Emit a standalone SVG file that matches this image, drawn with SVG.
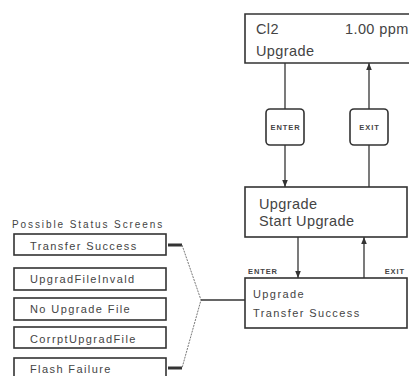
<svg xmlns="http://www.w3.org/2000/svg" width="409" height="376" viewBox="0 0 409 376">
<defs>
<style>
.box{fill:#fff;stroke:#333;stroke-width:1.6}
.t{font-family:"Liberation Sans",Arial,sans-serif;fill:#444}
.big{font-size:14.5px;letter-spacing:0.4px}
.mid{font-size:11px;letter-spacing:1.4px}
.sm{font-size:10px;letter-spacing:1.9px}
.lbl{font-size:7.5px;font-weight:bold;letter-spacing:0.9px}
.ln{stroke:#333;stroke-width:1.3;fill:none}
.br{stroke:#777;stroke-width:1;fill:none;stroke-dasharray:2 1}
.stub{stroke:#333;stroke-width:3}
</style>
<marker id="ah" viewBox="0 0 10 10" refX="10" refY="5" markerWidth="7" markerHeight="7" markerUnits="userSpaceOnUse" orient="auto">
<path d="M0,1 L10,5 L0,9 Z" fill="#333"/>
</marker>
</defs>
<g id="screen-cl2">
<path class="box" d="M412,14 H245 V63 H412"/>
<text class="t big" x="256" y="34">Cl2</text>
<text class="t big" x="345" y="34">1.00 ppm</text>
<text class="t big" x="256" y="56">Upgrade</text>
</g>
<g id="screen-start">
<rect class="box" x="245" y="187" width="162" height="50"/>
<text class="t big" x="259" y="209">Upgrade</text>
<text class="t big" x="259" y="226">Start Upgrade</text>
</g>
<g id="screen-transfer">
<rect class="box" x="245" y="278" width="162" height="50"/>
<text class="t mid" x="253" y="298">Upgrade</text>
<text class="t mid" x="253" y="317">Transfer Success</text>
</g>
<g id="key-enter">
<rect class="box" x="266" y="109" width="38" height="36" rx="4"/>
<text class="t lbl" x="285.5" y="130" text-anchor="middle">ENTER</text>
</g>
<g id="key-exit">
<rect class="box" x="350" y="109" width="38" height="36" rx="4"/>
<text class="t lbl" x="369.5" y="130" text-anchor="middle">EXIT</text>
</g>
<g id="status-title">
<text class="t sm" x="12" y="228">Possible Status Screens</text>
</g>
<g id="status-1"><rect class="box" x="14" y="234" width="152" height="21"/><text class="t mid" x="30" y="249.5">Transfer Success</text></g>
<g id="status-2"><rect class="box" x="14" y="268" width="152" height="22"/><text class="t mid" x="30" y="283">UpgradFileInvald</text></g>
<g id="status-3"><rect class="box" x="14" y="298" width="152" height="22"/><text class="t mid" x="30" y="313">No Upgrade File</text></g>
<g id="status-4"><rect class="box" x="14" y="327" width="152" height="21"/><text class="t mid" x="30" y="342.5">CorrptUpgradFile</text></g>
<g id="status-5"><rect class="box" x="14" y="358" width="152" height="22"/><text class="t mid" x="30" y="373">Flash Failure</text></g>
<g id="connectors">
<line class="ln" x1="285" y1="63" x2="285" y2="109"/>
<line class="ln" x1="285" y1="145" x2="285" y2="187" marker-end="url(#ah)"/>
<line class="ln" x1="369" y1="187" x2="369" y2="145"/>
<line class="ln" x1="369" y1="109" x2="369" y2="63" marker-end="url(#ah)"/>
<line class="ln" x1="298" y1="237" x2="298" y2="278" marker-end="url(#ah)"/>
<line class="ln" x1="364" y1="278" x2="364" y2="237" marker-end="url(#ah)"/>
<text class="t lbl" x="248" y="274">ENTER</text>
<text class="t lbl" x="405" y="274" text-anchor="end">EXIT</text>
<line class="stub" x1="168" y1="245" x2="182" y2="245"/>
<line class="stub" x1="168" y1="368" x2="182" y2="368"/>
<polyline class="br" points="182,245 201,300 182,368"/>
<line class="ln" x1="201" y1="300" x2="245" y2="300"/>
</g>
</svg>
